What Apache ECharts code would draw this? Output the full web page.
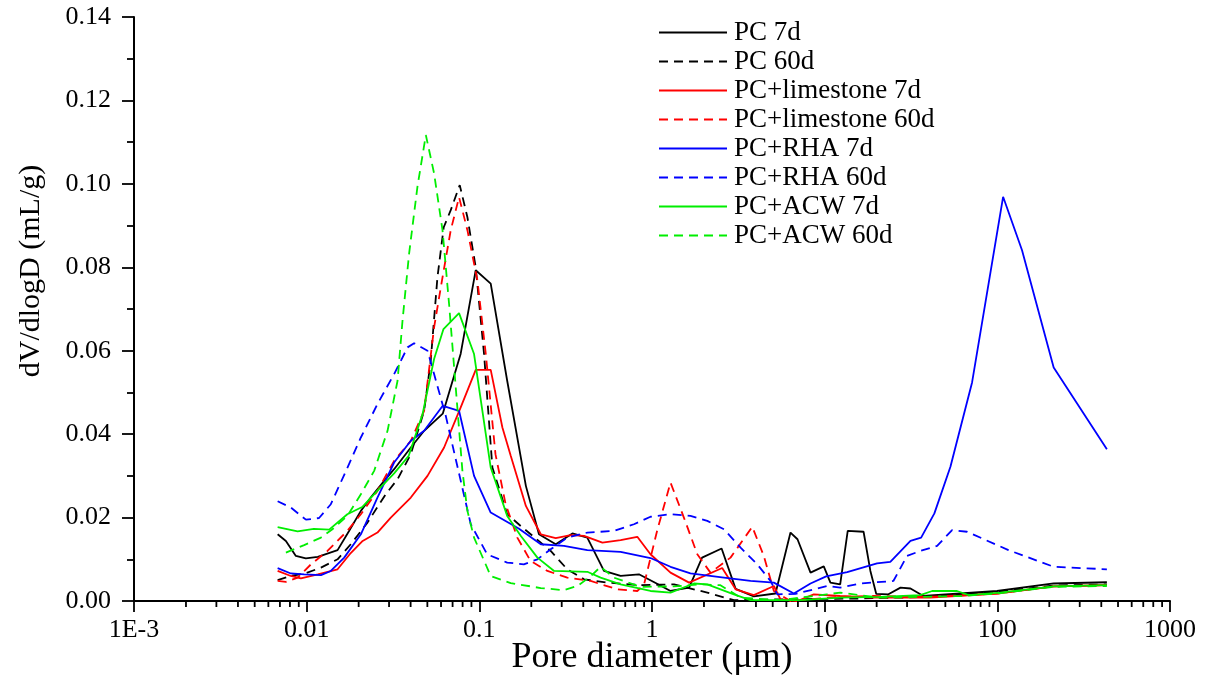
<!DOCTYPE html>
<html>
<head>
<meta charset="utf-8">
<script src="https://cdn.jsdelivr.net/npm/echarts@6/dist/echarts.min.js"></script>
<style>
html,body{margin:0;padding:0;background:#fff;}
#chart{width:1206px;height:675px;}
</style>
</head>
<body>
<div id="chart"></div>
<script>
// Pore diameter (µm), dV/dlogD (mL/g)
const seriesNames = ['PC 7d','PC 60d','PC+limestone 7d','PC+limestone 60d','PC+RHA 7d','PC+RHA 60d','PC+ACW 7d','PC+ACW 60d'];
const seriesColors = ['#000000','#000000','#ff0000','#ff0000','#0000ff','#0000ff','#00ee00','#00ee00'];
const xTickLabels = {'0.001':'1E-3','0.01':'0.01','0.1':'0.1','1':'1','10':'10','100':'100','1000':'1000'};

const pc7 = [[0.00679,0.0160],[0.00758,0.0144],[0.00866,0.0108],[0.00989,0.0102],[0.0116,0.0106],[0.0151,0.0122],[0.0176,0.0168],[0.0206,0.0216],[0.0235,0.0248],[0.0281,0.0288],[0.0321,0.0316],[0.0401,0.0368],[0.0479,0.0408],[0.0614,0.0449],[0.078,0.0593],[0.0953,0.0793],[0.1164,0.0761],[0.145,0.0528],[0.186,0.0276],[0.2215,0.0160],[0.277,0.0136],[0.346,0.0162],[0.422,0.0152],[0.527,0.0072],[0.658,0.0060],[0.84,0.0064],[1.05,0.0043],[1.28,0.0024],[1.64,0.0032],[1.95,0.0104],[2.53,0.0126],[3.05,0.0029],[3.89,0.0011],[5.19,0.0018],[6.34,0.0164],[6.96,0.0148],[8.28,0.0068],[9.88,0.0083],[10.8,0.0044],[12.3,0.0040],[13.6,0.0168],[16.8,0.0166],[18.4,0.0072],[19.9,0.0017],[23.4,0.0016],[27.5,0.0032],[31.4,0.0030],[37.3,0.0012],[99.6,0.0024],[212,0.0042],[431,0.0045]];
const pc60 = [[0.00679,0.0050],[0.0081,0.0060],[0.0099,0.0067],[0.0121,0.0080],[0.0151,0.0100],[0.0180,0.0136],[0.0225,0.0188],[0.0287,0.0256],[0.0336,0.0292],[0.0401,0.0352],[0.0479,0.0456],[0.0523,0.0576],[0.0572,0.0776],[0.0622,0.0896],[0.0683,0.0937],[0.077,0.0997],[0.0853,0.0920],[0.0953,0.0800],[0.1065,0.0592],[0.119,0.0320],[0.145,0.0208],[0.178,0.0176],[0.227,0.0140],[0.259,0.0120],[0.323,0.0076],[0.404,0.0052],[0.551,0.0044],[0.859,0.0038],[1.34,0.0040],[2.09,0.0020],[2.98,0.0002],[5.55,0.0004],[16.1,0.0006],[41,0.0010],[100,0.0022],[212,0.0037],[431,0.0040]];
const ls7 = [[0.00679,0.0072],[0.0081,0.0060],[0.00926,0.0054],[0.0116,0.0064],[0.0151,0.0076],[0.0180,0.0115],[0.0211,0.0144],[0.0257,0.0164],[0.0307,0.0200],[0.0401,0.0248],[0.0501,0.0300],[0.0625,0.0368],[0.078,0.0464],[0.0953,0.0554],[0.1164,0.0554],[0.136,0.0416],[0.152,0.0348],[0.186,0.0228],[0.227,0.0160],[0.277,0.0151],[0.338,0.0158],[0.404,0.0156],[0.516,0.0140],[0.658,0.0146],[0.822,0.0154],[0.98,0.0112],[1.28,0.0068],[1.64,0.0044],[2.55,0.0079],[3.05,0.0028],[3.89,0.0014],[5.08,0.0036],[5.55,0.0004],[6.96,0.0000],[8.65,0.0016],[12.3,0.0012],[19.2,0.0008],[41,0.0008],[100,0.0018],[212,0.0035],[431,0.0038]];
const ls60 = [[0.00679,0.0048],[0.00758,0.0046],[0.00886,0.0056],[0.0106,0.0088],[0.0132,0.0120],[0.0172,0.0168],[0.0206,0.0208],[0.0257,0.0264],[0.0321,0.0336],[0.0401,0.0384],[0.0479,0.0456],[0.0547,0.0656],[0.0612,0.0776],[0.0683,0.0889],[0.0763,0.0968],[0.0853,0.0889],[0.0975,0.0768],[0.109,0.0592],[0.124,0.0352],[0.142,0.0232],[0.166,0.0152],[0.198,0.0096],[0.248,0.0072],[0.323,0.0056],[0.441,0.0048],[0.63,0.0028],[0.822,0.0024],[0.90,0.0040],[1.07,0.0168],[1.28,0.0284],[1.53,0.0200],[1.83,0.0112],[2.18,0.0068],[2.85,0.0104],[3.81,0.0178],[4.44,0.0108],[5.08,0.0024],[6.34,0.0000],[12.3,0.0010],[19.2,0.0012],[41,0.0010],[100,0.0018],[212,0.0035],[431,0.0038]];
const rha7 = [[0.00679,0.0079],[0.0081,0.0066],[0.00967,0.0064],[0.0121,0.0062],[0.0138,0.0072],[0.0165,0.0104],[0.0206,0.0160],[0.0257,0.0248],[0.0321,0.0332],[0.0401,0.0384],[0.0479,0.0408],[0.0614,0.0468],[0.0763,0.0456],[0.0932,0.0300],[0.1164,0.0212],[0.169,0.0174],[0.227,0.0136],[0.309,0.0132],[0.422,0.0122],[0.658,0.0118],[0.98,0.0103],[1.28,0.0082],[1.67,0.0066],[2.61,0.0056],[3.72,0.0048],[5.08,0.0044],[6.63,0.0018],[8.28,0.0042],[10.2,0.0059],[13.5,0.0069],[20.1,0.0090],[24.0,0.0094],[31.4,0.0144],[36.2,0.0152],[43.2,0.0210],[53.5,0.0322],[71.4,0.0524],[108,0.0969],[139,0.0841],[212,0.0560],[431,0.0364]];
const rha60 = [[0.00679,0.0239],[0.0081,0.0224],[0.0099,0.0195],[0.0118,0.0199],[0.0138,0.0232],[0.0169,0.0312],[0.0206,0.0392],[0.0257,0.0472],[0.0321,0.0544],[0.0384,0.0608],[0.0419,0.0618],[0.0501,0.0600],[0.0547,0.0544],[0.0639,0.0444],[0.075,0.0319],[0.0892,0.0184],[0.111,0.0112],[0.145,0.0092],[0.181,0.0088],[0.217,0.0100],[0.259,0.0124],[0.323,0.0152],[0.422,0.0164],[0.602,0.0168],[0.786,0.0184],[0.98,0.0202],[1.28,0.0208],[1.67,0.0204],[2.09,0.0192],[2.61,0.0172],[3.26,0.0128],[4.07,0.0088],[4.86,0.0048],[5.31,0.0016],[6.78,0.0017],[8.65,0.0028],[10.3,0.0036],[12.3,0.0032],[16.1,0.0042],[25.0,0.0048],[30.0,0.0108],[35.8,0.0120],[44.8,0.0132],[54.7,0.0170],[66.8,0.0166],[116,0.0122],[212,0.0082],[431,0.0076]];
const acw7 = [[0.00679,0.0177],[0.00886,0.0167],[0.0110,0.0173],[0.0135,0.0171],[0.0172,0.0208],[0.0211,0.0226],[0.0262,0.0268],[0.0321,0.0306],[0.0390,0.0348],[0.0469,0.0448],[0.0547,0.0580],[0.0620,0.0652],[0.0763,0.0690],[0.0932,0.0592],[0.1164,0.0320],[0.145,0.0204],[0.174,0.0156],[0.217,0.0104],[0.271,0.0072],[0.422,0.0070],[0.504,0.0056],[0.658,0.0040],[0.98,0.0024],[1.28,0.0020],[1.75,0.0042],[2.09,0.0040],[2.98,0.0016],[3.72,0.0002],[7.24,0.0002],[12.3,0.0008],[21.0,0.0010],[35.8,0.0014],[41.9,0.0024],[58.4,0.0024],[68.2,0.0014],[104,0.0020],[212,0.0035],[431,0.0038]];
const acw60 = [[0.00758,0.0116],[0.00967,0.0134],[0.0121,0.0152],[0.0141,0.0172],[0.0172,0.0204],[0.0206,0.0256],[0.0246,0.0312],[0.0294,0.0408],[0.0336,0.0528],[0.0359,0.0672],[0.0392,0.0833],[0.0438,0.0993],[0.0490,0.1117],[0.0547,0.1025],[0.0612,0.0889],[0.0668,0.0712],[0.0730,0.0512],[0.0798,0.0312],[0.0853,0.0216],[0.0932,0.0152],[0.1164,0.0060],[0.152,0.0043],[0.227,0.0031],[0.309,0.0026],[0.370,0.0036],[0.441,0.0059],[0.504,0.0082],[0.602,0.0056],[0.859,0.0034],[1.34,0.0035],[1.91,0.0040],[2.49,0.0038],[3.26,0.0008],[5.55,0.0002],[10.3,0.0016],[12.3,0.0020],[21.0,0.0008],[64.0,0.0012],[104,0.0019],[212,0.0034],[431,0.0036]];

const seriesData = [pc7, pc60, ls7, ls60, rha7, rha60, acw7, acw60];

// minor tick values on the log axis (2..9 x each decade)
const minorTickValues = [];
[0.001,0.01,0.1,1,10,100].forEach(function(dec){
  for (let m = 2; m <= 9; m++) minorTickValues.push([+(dec*m).toPrecision(3), 0]);
});

const FONT = '"Liberation Serif", "Times New Roman", serif';

const lineSeries = seriesNames.map(function(name, i){
  return {
    name: name,
    type: 'line',
    data: seriesData[i],
    showSymbol: false,
    symbol: 'none',
    smooth: false,
    lineStyle: {color: seriesColors[i], width: 1.8, type: (i % 2 === 1) ? [9, 6] : 'solid'},
    itemStyle: {color: seriesColors[i]},
    z: 3
  };
});

lineSeries.push({
  type: 'custom',
  name: 'minorTicks',
  silent: true,
  clip: false,
  data: minorTickValues,
  z: 10,
  renderItem: function(params, api){
    const p = api.coord([api.value(0), 0]);
    return {type:'line', shape:{x1:p[0], y1:p[1], x2:p[0], y2:p[1]+6}, style:{stroke:'#000', lineWidth:1.8}};
  }
});

const chart = echarts.init(document.getElementById('chart'), null, {renderer:'canvas'});
chart.setOption({
  animation: false,
  backgroundColor: '#ffffff',
  textStyle: {fontFamily: FONT},
  grid: {left: 134, right: 36, top: 17, bottom: 74, containLabel: false, outerBoundsMode: 'none'},
  legend: {
    data: seriesNames,
    orient: 'vertical',
    left: 653,
    top: 14,
    itemWidth: 68,
    itemHeight: 14,
    itemGap: 2,
    itemStyle: {opacity: 0},
    textStyle: {fontFamily: FONT, fontSize: 27, color: '#000', padding: [0,0,0,2]},
    selectedMode: false
  },
  xAxis: {
    type: 'log',
    logBase: 10,
    min: 0.001,
    max: 1000,
    splitNumber: 6,
    name: 'Pore diameter (\u03bcm)',
    nameLocation: 'middle',
    nameGap: 39,
    nameMoveOverlap: false,
    nameTextStyle: {fontFamily: FONT, fontSize: 36, color: '#000'},
    axisLine: {show: true, onZero: false, lineStyle: {color: '#000', width: 2}},
    axisTick: {show: true, inside: false, length: 11, lineStyle: {color: '#000', width: 1.8}},
    minorTick: {show: false},
    splitLine: {show: false},
    axisLabel: {
      fontFamily: FONT, fontSize: 26, color: '#000', margin: 16,
      showMinLabel: true, showMaxLabel: true,
      formatter: function(v){
        const key = String(+v.toPrecision(3));
        return xTickLabels[key] !== undefined ? xTickLabels[key] : '';
      }
    }
  },
  yAxis: {
    type: 'value',
    min: 0,
    max: 0.14,
    interval: 0.02,
    name: 'dV/dlogD (mL/g)',
    nameLocation: 'middle',
    nameGap: 88,
    nameMoveOverlap: false,
    nameTextStyle: {fontFamily: FONT, fontSize: 30, color: '#000', padding: [0,0,0,76]},
    axisLine: {show: true, lineStyle: {color: '#000', width: 2}},
    axisTick: {show: true, inside: false, length: 12, lineStyle: {color: '#000', width: 1.8}},
    minorTick: {show: true, splitNumber: 2, length: 7, lineStyle: {color: '#000', width: 1.8}},
    splitLine: {show: false},
    minorSplitLine: {show: false},
    axisLabel: {
      fontFamily: FONT, fontSize: 26, color: '#000', margin: 23,
      formatter: function(v){ return v.toFixed(2); }
    }
  },
  series: lineSeries
});
</script>
</body>
</html>
